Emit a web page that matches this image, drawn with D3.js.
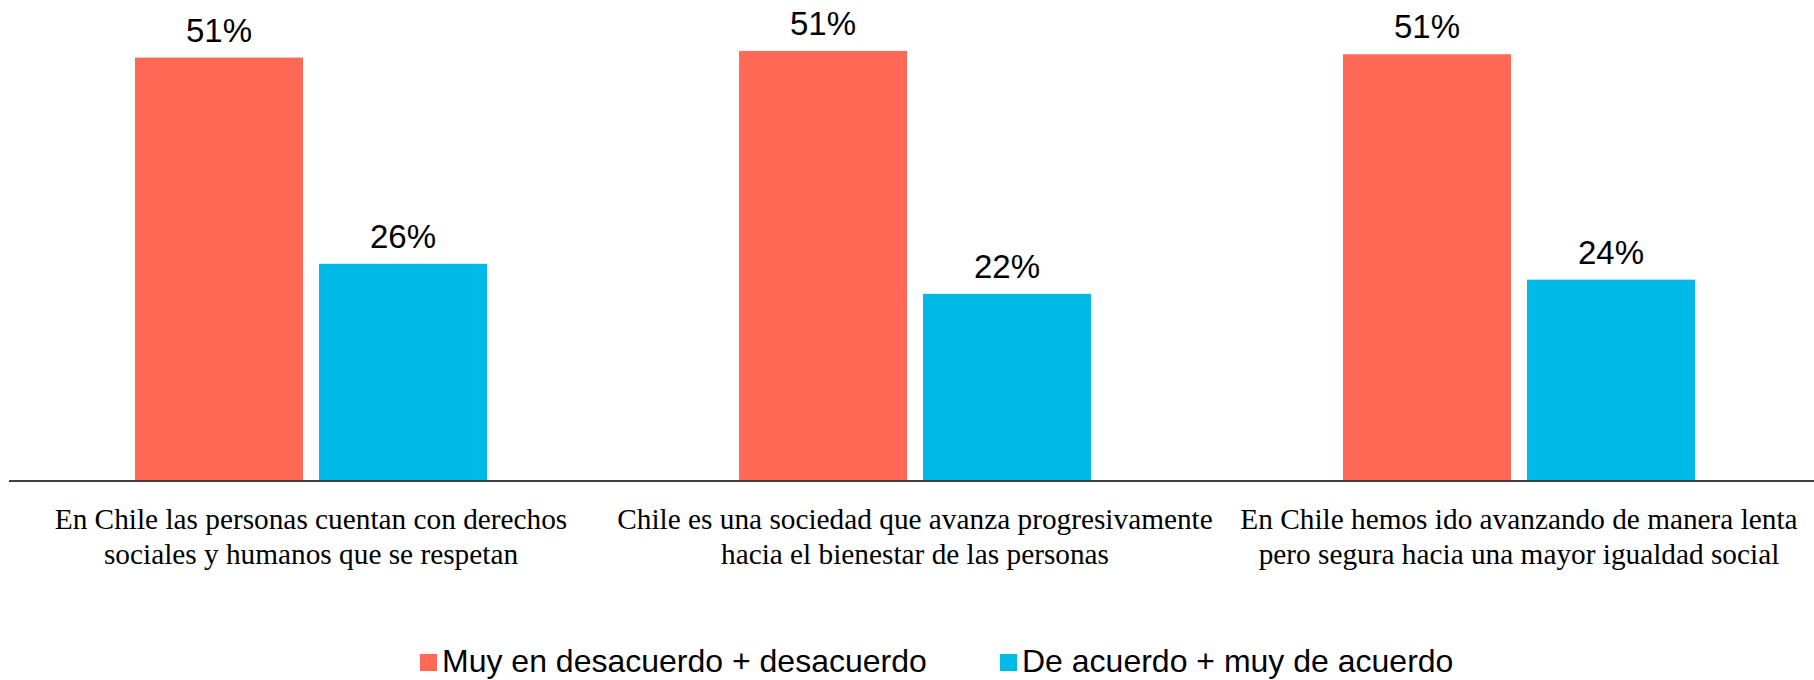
<!DOCTYPE html>
<html>
<head>
<meta charset="utf-8">
<script src="https://cdn.jsdelivr.net/npm/d3@7"></script>
<style>
  html, body { margin: 0; padding: 0; background: #ffffff; }
  svg { display: block; }
</style>
</head>
<body>
<svg id="chart" width="1814" height="680"></svg>
<script>
// ---- data ----
const categories = [
  "En Chile las personas cuentan con derechos\nsociales y humanos que se respetan",
  "Chile es una sociedad que avanza progresivamente\nhacia el bienestar de las personas",
  "En Chile hemos ido avanzando de manera lenta\npero segura hacia una mayor igualdad social"
];
const seriesNames = ["Muy en desacuerdo + desacuerdo", "De acuerdo + muy de acuerdo"];
const desacuerdo = [50.6, 51.4, 51.0];
const acuerdo = [25.9, 22.3, 24.0];
const seriesColors = ["#FF6955", "#00B9E7"];

// ---- layout ----
const svg = d3.select("#chart");
const baseY = 480;

const x0 = d3.scaleBand().domain(categories).range([9, 1821]).padding(0);
const x1 = d3.scaleBand().domain(seriesNames).range([0, x0.bandwidth()])
  .paddingInner(0.087).paddingOuter(0.685);
const y = d3.scaleLinear().domain([0, 57.5]).range([baseY, 0]);

const rows = [];
categories.forEach((c, i) => {
  rows.push({cat: c, s: seriesNames[0], v: desacuerdo[i], color: seriesColors[0]});
  rows.push({cat: c, s: seriesNames[1], v: acuerdo[i], color: seriesColors[1]});
});

// bars
svg.append("g").selectAll("rect").data(rows).join("rect")
  .attr("x", d => x0(d.cat) + x1(d.s))
  .attr("y", d => y(d.v))
  .attr("width", x1.bandwidth())
  .attr("height", d => y(0) - y(d.v))
  .attr("fill", d => d.color);

// value labels
svg.append("g").selectAll("text").data(rows).join("text")
  .attr("x", d => x0(d.cat) + x1(d.s) + x1.bandwidth() / 2)
  .attr("y", d => y(d.v) - 16)
  .attr("text-anchor", "middle")
  .attr("font-family", "'Liberation Sans', Arial, sans-serif")
  .attr("font-size", 33)
  .attr("fill", "#000")
  .text(d => Math.round(d.v) + "%");

// x axis
const axis = svg.append("g")
  .attr("transform", `translate(0,${baseY})`)
  .call(d3.axisBottom(x0).tickSize(0).tickFormat(""));
axis.select(".domain").attr("stroke", "#404040").attr("stroke-width", 2)
  .attr("d", `M9,1H1814`);

// category labels
const lab = svg.append("g").selectAll("text").data(categories).join("text")
  .attr("text-anchor", "middle")
  .attr("font-family", "'Liberation Serif', 'Times New Roman', serif")
  .attr("font-size", 29.3)
  .attr("fill", "#000");
lab.each(function(d) {
  const t = d3.select(this);
  d.split("\n").forEach((line, j) => {
    t.append("tspan")
      .attr("x", x0(d) + x0.bandwidth() / 2)
      .attr("y", 529 + j * 35)
      .text(line);
  });
});

// legend
const legendX = [420, 1000];
const lg = svg.append("g").selectAll("g").data(seriesNames).join("g")
  .attr("transform", (d, i) => `translate(${legendX[i]},0)`);
lg.append("rect")
  .attr("x", 0).attr("y", 654).attr("width", 17).attr("height", 17)
  .attr("fill", (d, i) => seriesColors[i]);
lg.append("text")
  .attr("x", 22).attr("y", 672)
  .attr("font-family", "'Liberation Sans', Arial, sans-serif")
  .attr("font-size", 32)
  .attr("fill", "#000")
  .text(d => d);
</script>
</body>
</html>
